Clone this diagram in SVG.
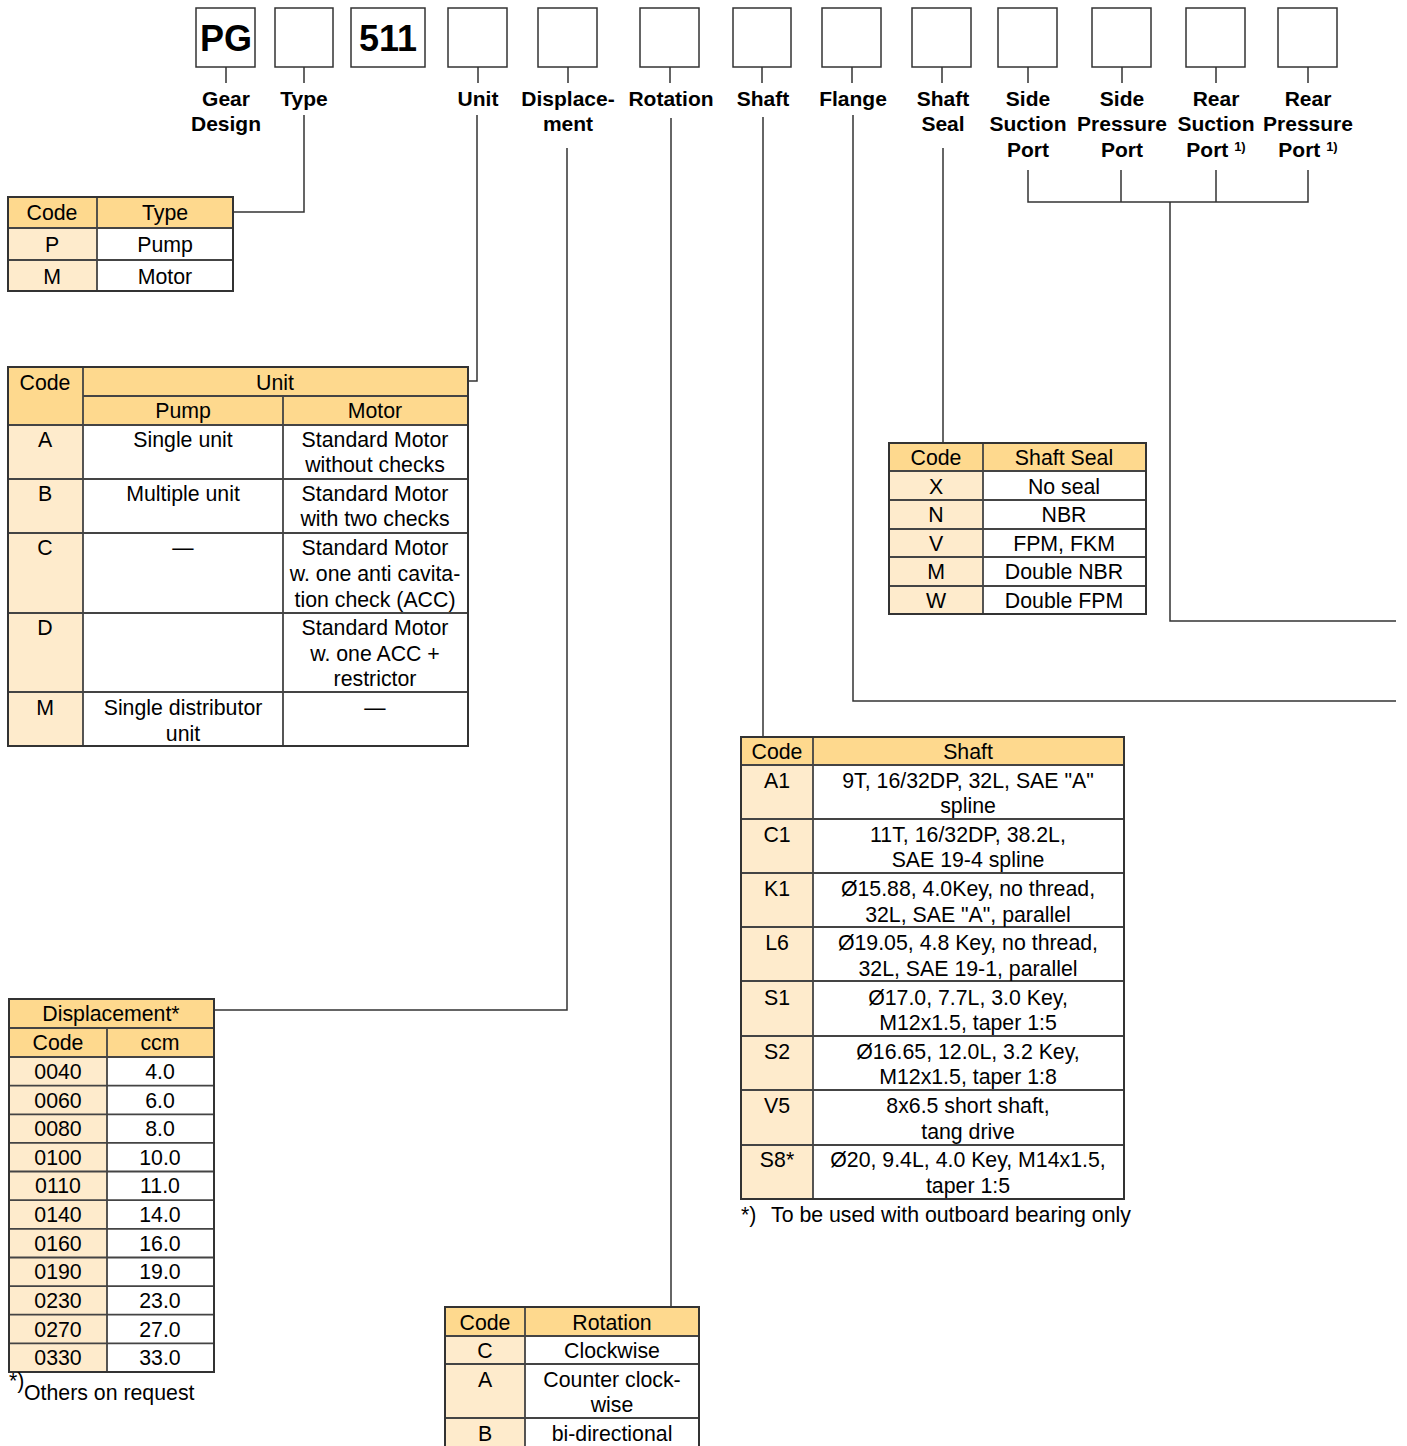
<svg xmlns="http://www.w3.org/2000/svg" width="1407" height="1446" viewBox="0 0 1407 1446">
<style>
.bx{fill:#fff;stroke:#333;stroke-width:1.5}
.big{font-family:"Liberation Sans",Arial,sans-serif;font-weight:bold;font-size:36px;fill:#000;text-anchor:middle}
.lb{font-family:"Liberation Sans",Arial,sans-serif;font-weight:bold;font-size:21px;fill:#000;text-anchor:middle}
.sup{font-size:13px}
.t{font-family:"Liberation Sans",Arial,sans-serif;font-size:21.3px;fill:#000;text-anchor:middle}
.ts{font-family:"Liberation Sans",Arial,sans-serif;font-size:21.3px;fill:#000}
.hd{fill:#FED98E}
.cd{fill:#FEEBCC}
.gl{stroke:#444;stroke-width:1.8;fill:none}
.ob{stroke:#333;stroke-width:2;fill:none}
.cn{stroke:#333;stroke-width:1.5;fill:none}
</style>

<g id="code-boxes">
<g id="box-pg"><rect class="bx" x="196" y="8" width="59" height="59"/><text class="big" x="226" y="51">PG</text></g>
<g id="box-type"><rect class="bx" x="275" y="8" width="58" height="59"/></g>
<g id="box-511"><rect class="bx" x="351" y="8" width="74" height="59"/><text class="big" x="388" y="51">511</text></g>
<g id="box-unit"><rect class="bx" x="448" y="8" width="59" height="59"/></g>
<g id="box-disp"><rect class="bx" x="538" y="8" width="59" height="59"/></g>
<g id="box-rot"><rect class="bx" x="640" y="8" width="59" height="59"/></g>
<g id="box-shaft"><rect class="bx" x="733" y="8" width="58" height="59"/></g>
<g id="box-flange"><rect class="bx" x="822" y="8" width="59" height="59"/></g>
<g id="box-seal"><rect class="bx" x="912" y="8" width="59" height="59"/></g>
<g id="box-ssp"><rect class="bx" x="998" y="8" width="59" height="59"/></g>
<g id="box-spp"><rect class="bx" x="1092" y="8" width="59" height="59"/></g>
<g id="box-rsp"><rect class="bx" x="1186" y="8" width="59" height="59"/></g>
<g id="box-rpp"><rect class="bx" x="1278" y="8" width="59" height="59"/></g>
</g>

<g id="labels">
<text class="lb" x="226" y="106">Gear</text><text class="lb" x="226" y="131">Design</text>
<text class="lb" x="304" y="106">Type</text>
<text class="lb" x="478" y="106">Unit</text>
<text class="lb" x="568" y="106">Displace-</text><text class="lb" x="568" y="131">ment</text>
<text class="lb" x="671" y="106">Rotation</text>
<text class="lb" x="763" y="106">Shaft</text>
<text class="lb" x="853" y="106">Flange</text>
<text class="lb" x="943" y="106">Shaft</text><text class="lb" x="943" y="131">Seal</text>
<text class="lb" x="1028" y="106">Side</text><text class="lb" x="1028" y="131">Suction</text><text class="lb" x="1028" y="157">Port</text>
<text class="lb" x="1122" y="106">Side</text><text class="lb" x="1122" y="131">Pressure</text><text class="lb" x="1122" y="157">Port</text>
<text class="lb" x="1216" y="106">Rear</text><text class="lb" x="1216" y="131">Suction</text><text class="lb" x="1216" y="157">Port <tspan class="sup" dy="-6">1)</tspan></text>
<text class="lb" x="1308" y="106">Rear</text><text class="lb" x="1308" y="131">Pressure</text><text class="lb" x="1308" y="157">Port <tspan class="sup" dy="-6">1)</tspan></text>
</g>

<g id="connectors">
<path class="cn" d="M226 67V83M304 67V83M478 67V83M568 67V83M670 67V83M762 67V83M852 67V83M942 67V83M1028 67V83M1122 67V83M1216 67V83M1308 67V83"/>
<path class="cn" d="M304 115V212H233"/>
<path class="cn" d="M477 115V381H468"/>
<path class="cn" d="M567 148V1010H214"/>
<path class="cn" d="M671 118V1306"/>
<path class="cn" d="M763 117V737"/>
<path class="cn" d="M853 115V701H1396"/>
<path class="cn" d="M943 148V443"/>
<path class="cn" d="M1028 170V202H1308V170M1121 170V202M1216 170V202M1170 202V621H1396"/>
</g>

<g id="table-type">
<rect class="hd" x="8" y="197" width="225" height="31"/>
<rect class="cd" x="8" y="228" width="89" height="63"/>
<path class="gl" d="M8 228H233M8 260H233M97 197V291"/>
<rect class="ob" x="8" y="197" width="225" height="94"/>
<text class="t" x="52" y="220">Code</text><text class="t" x="165" y="220">Type</text>
<text class="t" x="52" y="252">P</text><text class="t" x="165" y="252">Pump</text>
<text class="t" x="52" y="284">M</text><text class="t" x="165" y="284">Motor</text>
</g>

<g id="table-unit">
<rect class="hd" x="8" y="367" width="460" height="58"/>
<rect class="cd" x="8" y="425" width="75" height="321"/>
<path class="gl" d="M83 396H468M8 425H468M8 479H468M8 533H468M8 613H468M8 692H468M83 367V746M283 396V746"/>
<rect class="ob" x="8" y="367" width="460" height="379"/>
<text class="t" x="45" y="390">Code</text><text class="t" x="275" y="390">Unit</text>
<text class="t" x="183" y="418">Pump</text><text class="t" x="375" y="418">Motor</text>
<text class="t" x="45" y="447">A</text><text class="t" x="183" y="447">Single unit</text>
<text class="t" x="375" y="447">Standard Motor</text><text class="t" x="375" y="472">without checks</text>
<text class="t" x="45" y="501">B</text><text class="t" x="183" y="501">Multiple unit</text>
<text class="t" x="375" y="501">Standard Motor</text><text class="t" x="375" y="526">with two checks</text>
<text class="t" x="45" y="555">C</text><text class="t" x="183" y="555">—</text>
<text class="t" x="375" y="555">Standard Motor</text><text class="t" x="375" y="581">w. one anti cavita-</text><text class="t" x="375" y="607">tion check (ACC)</text>
<text class="t" x="45" y="635">D</text>
<text class="t" x="375" y="635">Standard Motor</text><text class="t" x="375" y="661">w. one ACC +</text><text class="t" x="375" y="686">restrictor</text>
<text class="t" x="45" y="715">M</text><text class="t" x="183" y="715">Single distributor</text><text class="t" x="183" y="741">unit</text>
<text class="t" x="375" y="715">—</text>
</g>

<g id="table-seal">
<rect class="hd" x="889" y="443" width="257" height="28"/>
<rect class="cd" x="889" y="471" width="94" height="143"/>
<path class="gl" d="M889 471H1146M889 500H1146M889 529H1146M889 557H1146M889 586H1146M983 443V614"/>
<rect class="ob" x="889" y="443" width="257" height="171"/>
<text class="t" x="936" y="465">Code</text><text class="t" x="1064" y="465">Shaft Seal</text>
<text class="t" x="936" y="494">X</text><text class="t" x="1064" y="494">No seal</text>
<text class="t" x="936" y="522">N</text><text class="t" x="1064" y="522">NBR</text>
<text class="t" x="936" y="551">V</text><text class="t" x="1064" y="551">FPM, FKM</text>
<text class="t" x="936" y="579">M</text><text class="t" x="1064" y="579">Double NBR</text>
<text class="t" x="936" y="608">W</text><text class="t" x="1064" y="608">Double FPM</text>
</g>

<g id="table-shaft">
<rect class="hd" x="741" y="737" width="383" height="28"/>
<rect class="cd" x="741" y="765" width="72" height="434"/>
<path class="gl" d="M741 765H1124M741 819H1124M741 873H1124M741 927H1124M741 981H1124M741 1036H1124M741 1090H1124M741 1145H1124M813 737V1199"/>
<rect class="ob" x="741" y="737" width="383" height="462"/>
<text class="t" x="777" y="759">Code</text><text class="t" x="968" y="759">Shaft</text>
<text class="t" x="777" y="788">A1</text><text class="t" x="968" y="788">9T, 16/32DP, 32L, SAE "A"</text><text class="t" x="968" y="813">spline</text>
<text class="t" x="777" y="842">C1</text><text class="t" x="968" y="842">11T, 16/32DP, 38.2L,</text><text class="t" x="968" y="867">SAE 19-4 spline</text>
<text class="t" x="777" y="896">K1</text><text class="t" x="968" y="896">Ø15.88, 4.0Key, no thread,</text><text class="t" x="968" y="922">32L, SAE "A", parallel</text>
<text class="t" x="777" y="950">L6</text><text class="t" x="968" y="950">Ø19.05, 4.8 Key, no thread,</text><text class="t" x="968" y="976">32L, SAE 19-1, parallel</text>
<text class="t" x="777" y="1005">S1</text><text class="t" x="968" y="1005">Ø17.0, 7.7L, 3.0 Key,</text><text class="t" x="968" y="1030">M12x1.5,  taper 1:5</text>
<text class="t" x="777" y="1059">S2</text><text class="t" x="968" y="1059">Ø16.65, 12.0L, 3.2 Key,</text><text class="t" x="968" y="1084">M12x1.5, taper 1:8</text>
<text class="t" x="777" y="1113">V5</text><text class="t" x="968" y="1113">8x6.5 short shaft,</text><text class="t" x="968" y="1139">tang drive</text>
<text class="t" x="777" y="1167">S8*</text><text class="t" x="968" y="1167">Ø20, 9.4L, 4.0 Key, M14x1.5,</text><text class="t" x="968" y="1193">taper 1:5</text>
<text class="ts" x="741" y="1222">*)</text><text class="ts" x="771" y="1222">To be used with outboard bearing only</text>
</g>

<g id="table-displacement">
<rect class="hd" x="9" y="999" width="205" height="58"/>
<rect class="cd" x="9" y="1057" width="98" height="315"/>
<path class="gl" d="M9 1028H214M9 1057H214M9 1085.6H214M9 1114.3H214M9 1142.9H214M9 1171.5H214M9 1200.2H214M9 1228.8H214M9 1257.5H214M9 1286.1H214M9 1314.7H214M9 1343.4H214M107 1028V1372"/>
<rect class="ob" x="9" y="999" width="205" height="373"/>
<text class="t" x="111" y="1021">Displacement*</text>
<text class="t" x="58" y="1050">Code</text><text class="t" x="160" y="1050">ccm</text>
<text class="t" x="58" y="1079">0040</text><text class="t" x="160" y="1079">4.0</text>
<text class="t" x="58" y="1108">0060</text><text class="t" x="160" y="1108">6.0</text>
<text class="t" x="58" y="1136">0080</text><text class="t" x="160" y="1136">8.0</text>
<text class="t" x="58" y="1165">0100</text><text class="t" x="160" y="1165">10.0</text>
<text class="t" x="58" y="1193">0110</text><text class="t" x="160" y="1193">11.0</text>
<text class="t" x="58" y="1222">0140</text><text class="t" x="160" y="1222">14.0</text>
<text class="t" x="58" y="1251">0160</text><text class="t" x="160" y="1251">16.0</text>
<text class="t" x="58" y="1279">0190</text><text class="t" x="160" y="1279">19.0</text>
<text class="t" x="58" y="1308">0230</text><text class="t" x="160" y="1308">23.0</text>
<text class="t" x="58" y="1337">0270</text><text class="t" x="160" y="1337">27.0</text>
<text class="t" x="58" y="1365">0330</text><text class="t" x="160" y="1365">33.0</text>
<text class="ts" x="9" y="1388" font-size="11">*)</text><text class="ts" x="24" y="1400">Others on request</text>
</g>

<g id="table-rotation">
<rect class="hd" x="445" y="1307" width="254" height="29"/>
<rect class="cd" x="445" y="1336" width="80" height="112"/>
<path class="gl" d="M445 1336H699M445 1364H699M445 1418H699M525 1307V1448"/>
<rect class="ob" x="445" y="1307" width="254" height="145"/>
<text class="t" x="485" y="1330">Code</text><text class="t" x="612" y="1330">Rotation</text>
<text class="t" x="485" y="1358">C</text><text class="t" x="612" y="1358">Clockwise</text>
<text class="t" x="485" y="1387">A</text><text class="t" x="612" y="1387">Counter clock-</text><text class="t" x="612" y="1412">wise</text>
<text class="t" x="485" y="1441">B</text><text class="t" x="612" y="1441">bi-directional</text>
</g>
</svg>
